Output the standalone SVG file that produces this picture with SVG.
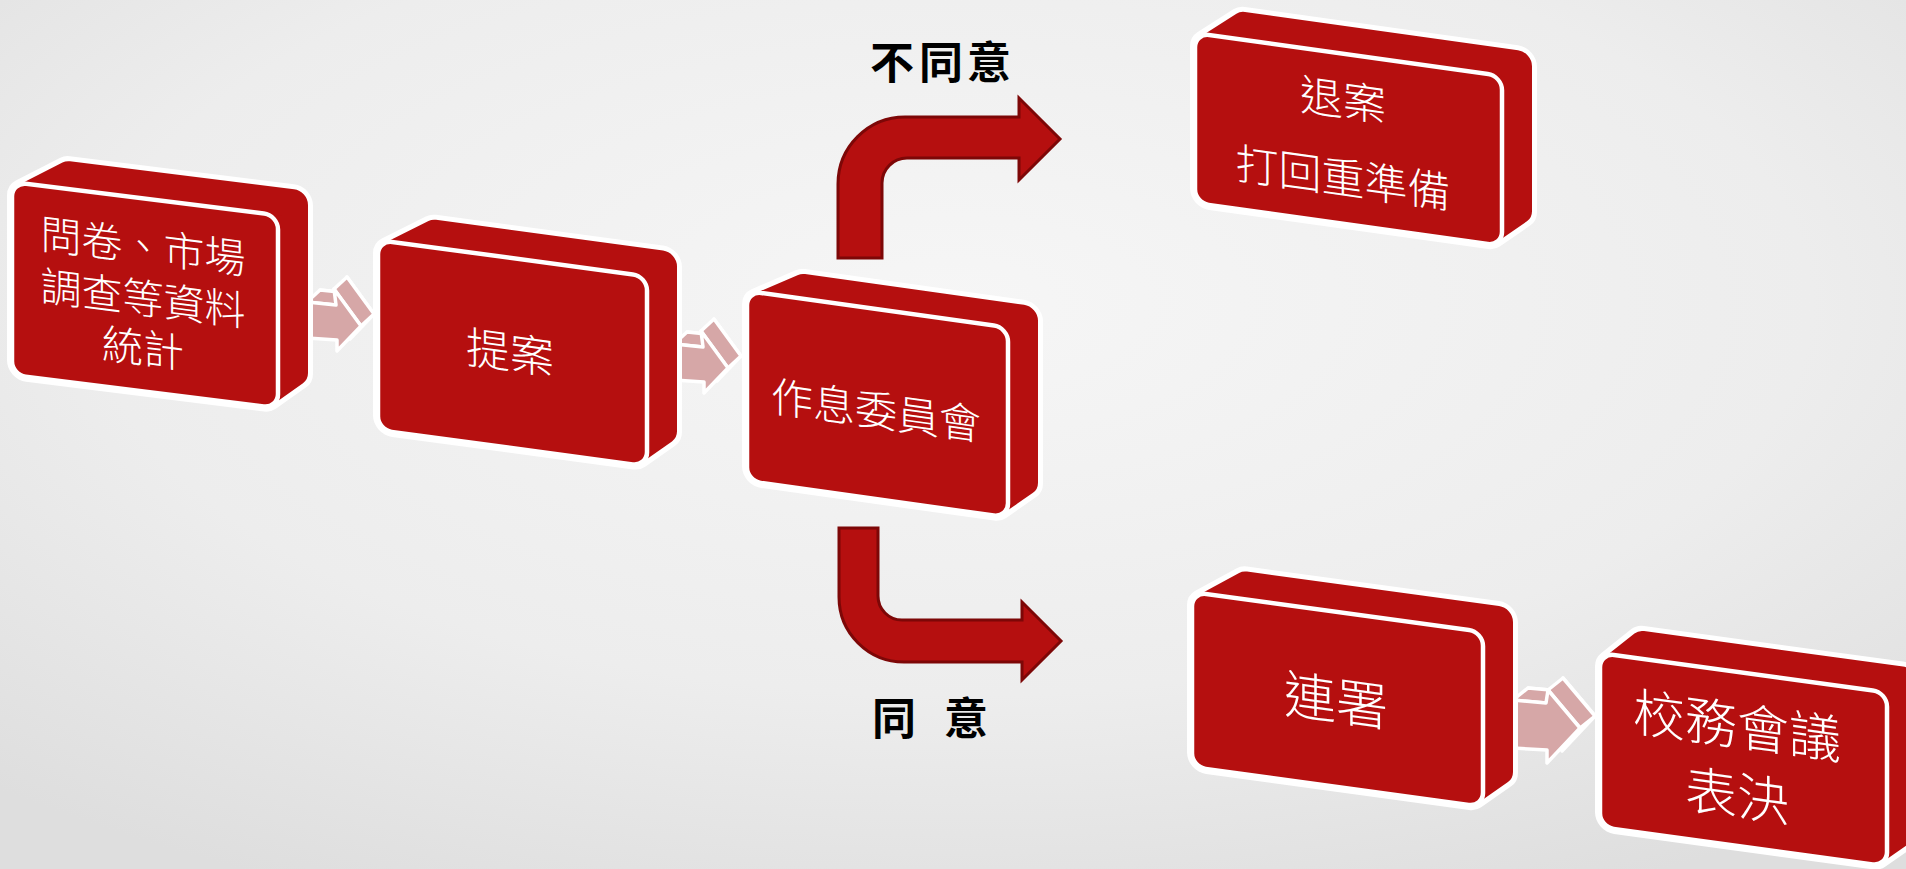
<svg xmlns="http://www.w3.org/2000/svg" width="1906" height="869" viewBox="0 0 1906 869">
<defs>
<radialGradient id="bg" cx="0.5" cy="0.35" r="0.75">
<stop offset="0" stop-color="#f6f6f6"/>
<stop offset="0.6" stop-color="#ededed"/>
<stop offset="1" stop-color="#dedede"/>
</radialGradient>
<style>
.hw{fill:#ffffff;stroke:#ffffff;stroke-width:38;stroke-linejoin:round}
.hr{fill:#b50f0f;stroke:#b50f0f;stroke-width:28;stroke-linejoin:round}
.fr{fill:#b50f0f;stroke:#ffffff;stroke-width:4.5}
.nt{fill:#ffffff;font-family:"Noto Sans CJK TC","Noto Sans CJK SC",sans-serif;font-weight:200;text-anchor:middle}
.lb{fill:#000000;font-family:"Noto Sans CJK TC","Noto Sans CJK SC",sans-serif;font-weight:700;font-size:44px}
.big{fill:#b50f0f;stroke:#7d0707;stroke-width:3;stroke-linejoin:miter}
.pa{fill:#d6a7a7;stroke:#ffffff;stroke-width:3.5;stroke-linejoin:round}
</style>
<g id="sarrow">
<polygon class="pa" points="320,290 349,293 347,277 374,314 350,339 350,328 320,326"/>
<polygon class="pa" points="307,302 320,290 349,293 336,305"/>
<polygon class="pa" points="334,289 347,277 374,314 361,326"/>
<polygon class="pa" points="307,302 336,305 334,289 361,326 337,351 337,340 307,338"/>
</g>
</defs>
<rect x="0" y="0" width="1906" height="869" fill="url(#bg)"/>

<g id="connectors">
<use href="#sarrow"/>
<use href="#sarrow" transform="translate(367,42)"/>
<g id="arrow3">
<polygon class="pa" points="1528,688 1561,691 1563,678 1595,716 1562,751 1562,738 1528,736"/>
<polygon class="pa" points="1513,700 1528,688 1561,691 1546,703"/>
<polygon class="pa" points="1548,690 1563,678 1595,716 1580,728"/>
<polygon class="pa" points="1513,700 1546,703 1548,690 1580,728 1547,763 1547,750 1513,748"/>
</g>
<path class="big" d="M838,258 L838,184 A67,67 0 0 1 905,117 L1019,117 L1019,98 L1060,139 L1019,180 L1019,158 L907,158 A25,25 0 0 0 882,183 L882,258 Z"/>
<path class="big" d="M839,528 L878,528 L878,596 A24,24 0 0 0 902,620 L1022,620 L1022,602 L1061,641 L1022,680 L1022,662 L904,662 A65,65 0 0 1 839,597 Z"/>
<text class="lb" x="870 919 967" y="79">不同意</text>
<text class="lb" x="872 916 944" y="735">同 意</text>
</g>

<g id="node1" transform="matrix(1 0.125 0 1 12 182)">
<polygon class="hw" points="14,14 58,-14 282,-14 282,154 252,179 14,179"/>
<polygon class="hr" points="14,14 58,-14 282,-14 282,154 252,179 14,179"/>
<rect class="fr" x="0" y="0" width="266" height="193" rx="14"/>
<text class="nt" font-size="41" x="131" y="63">問卷、市場</text>
<text class="nt" font-size="41" x="131" y="115">調查等資料</text>
<text class="nt" font-size="41" x="131" y="165">統計</text>
</g>

<g id="node2" transform="matrix(1 0.135 0 1 378 240)">
<polygon class="hw" points="14,14 58,-14 285,-14 285,151 255,176 14,176"/>
<polygon class="hr" points="14,14 58,-14 285,-14 285,151 255,176 14,176"/>
<rect class="fr" x="0" y="0" width="269" height="190" rx="14"/>
<text class="nt" font-size="44" x="132" y="111">提案</text>
</g>

<g id="node3" transform="matrix(1 0.14 0 1 747 291)">
<polygon class="hw" points="14,14 58,-11 277,-11 277,151 247,176 14,176"/>
<polygon class="hr" points="14,14 58,-11 277,-11 277,151 247,176 14,176"/>
<rect class="fr" x="0" y="0" width="261" height="190" rx="14"/>
<text class="nt" font-size="42" x="129" y="117">作息委員會</text>
</g>

<g id="node4" transform="matrix(1 0.14 0 1 1195 33)">
<polygon class="hw" points="14,14 50,-14 323,-14 323,131 293,156 14,156"/>
<polygon class="hr" points="14,14 50,-14 323,-14 323,131 293,156 14,156"/>
<rect class="fr" x="0" y="0" width="307" height="170" rx="14"/>
<text class="nt" font-size="43" x="148" y="62">退案</text>
<text class="nt" font-size="43" x="148" y="140">打回重準備</text>
</g>

<g id="node5" transform="matrix(1 0.137 0 1 1192 592)">
<polygon class="hw" points="14,14 55,-14 307,-14 307,136 277,161 14,161"/>
<polygon class="hr" points="14,14 55,-14 307,-14 307,136 277,161 14,161"/>
<rect class="fr" x="0" y="0" width="291" height="175" rx="14"/>
<text class="nt" font-size="52" x="144" y="108">連署</text>
</g>

<g id="node6" transform="matrix(1 0.137 0 1 1600 653)">
<polygon class="hw" points="14,14 44,-14 303,-14 303,135 273,160 14,160"/>
<polygon class="hr" points="14,14 44,-14 303,-14 303,135 273,160 14,160"/>
<rect class="fr" x="0" y="0" width="287" height="174" rx="14"/>
<text class="nt" font-size="52" x="137" y="73">校務會議</text>
<text class="nt" font-size="52" x="137" y="143">表決</text>
</g>
</svg>
